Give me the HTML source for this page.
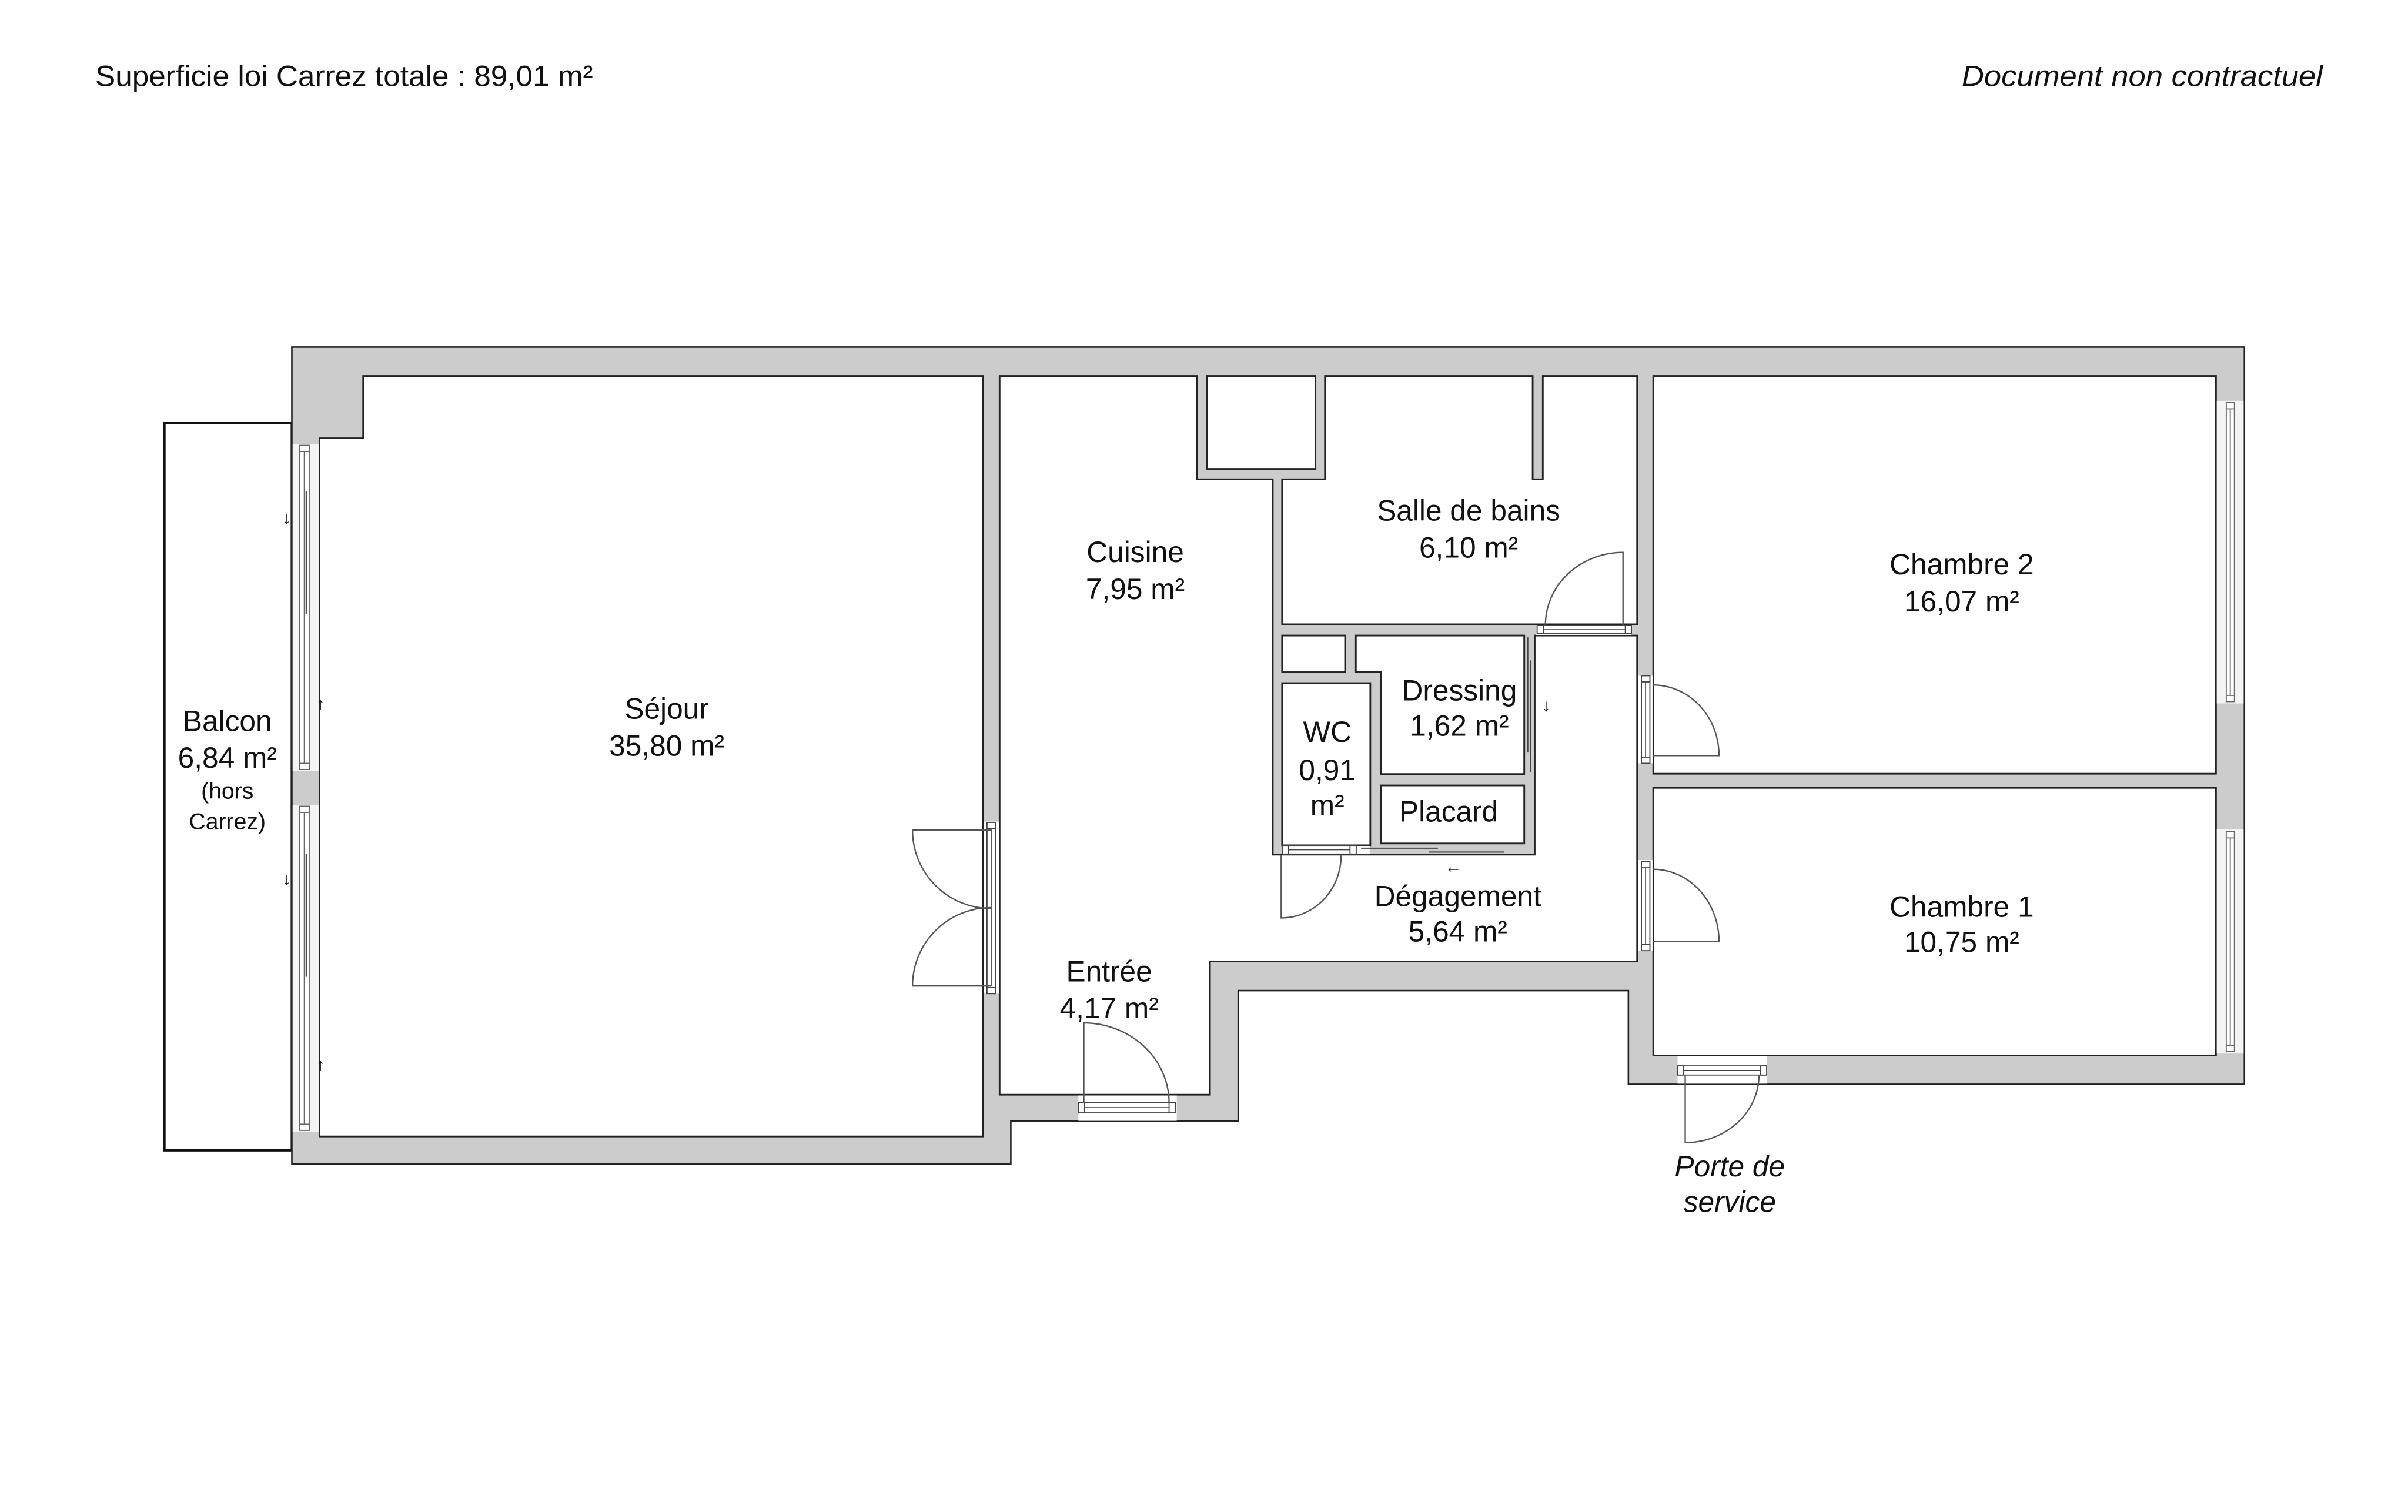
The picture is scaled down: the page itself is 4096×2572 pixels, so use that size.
<!DOCTYPE html>
<html><head><meta charset="utf-8"><style>
html,body{margin:0;padding:0;background:#fff;}
svg{display:block;}
text{font-family:"Liberation Sans",sans-serif;fill:#111;}
</style></head><body>
<svg width="4096" height="2572" viewBox="0 0 1567.5 984.5" preserveAspectRatio="none" xmlns="http://www.w3.org/2000/svg">
<rect x="0" y="0" width="1567.5" height="984.5" fill="#fff"/>
<text x="62" y="56" font-size="19" textLength="324" lengthAdjust="spacingAndGlyphs">Superficie loi Carrez totale :  89,01 m²</text>
<text x="1512" y="56" font-size="19" font-style="italic" text-anchor="end" textLength="235" lengthAdjust="spacingAndGlyphs">Document non contractuel</text>

<rect x="107" y="275.5" width="83" height="473.5" fill="#fff" stroke="#111" stroke-width="1.6"/>

<polygon points="190,226 1461,226 1461,706 1060,706 1060,645 806,645 806,730 658,730 658,758 190,758" fill="#cccccc" stroke="#222" stroke-width="1"/>

<g fill="#fff" stroke="#222" stroke-width="1.1">
<polygon points="236.4,244.8 640,244.8 640,740 208,740 208,285.4 236.4,285.4"/>
<polygon points="650.7,244.8 779.2,244.8 779.2,312.1 828.5,312.1 828.5,556.5 999,556.5 999,413.8 1065.7,413.8 1065.7,626 787.6,626 787.6,712.8 650.7,712.8"/>
<rect x="785.8" y="244.8" width="70.5" height="60.5"/>
<polygon points="862.5,244.8 997.7,244.8 997.7,312.1 1004.3,312.1 1004.3,244.8 1065.7,244.8 1065.7,406.5 834.6,406.5 834.6,312.1 862.5,312.1"/>
<rect x="834.6" y="413.8" width="41" height="23.9"/>
<polygon points="882.6,413.8 992.2,413.8 992.2,504 899.1,504 899.1,437.7 882.6,437.7"/>
<rect x="834.6" y="444.8" width="57.4" height="105.6"/>
<rect x="899.1" y="511.4" width="93.1" height="37.8"/>
<rect x="1076.2" y="244.8" width="366.3" height="259"/>
<rect x="1076.2" y="513" width="366.3" height="174.3"/>
</g>

<g fill="#f4f4f4" stroke="none">
<rect x="190.5" y="289" width="17" height="213"/>
<rect x="190.5" y="524" width="17" height="213"/>
<rect x="1443" y="261" width="17.5" height="197"/>
<rect x="1443" y="540" width="17.5" height="146"/>
<rect x="640.5" y="535" width="10" height="112" fill="#fff"/>
<rect x="702" y="713.3" width="64" height="16.5" fill="#fff"/>
<rect x="1092" y="687.8" width="58" height="17.8" fill="#fff"/>
<rect x="1066.2" y="440" width="9.5" height="57" fill="#fff"/>
<rect x="1066.2" y="560" width="9.5" height="59" fill="#fff"/>
<rect x="1000" y="406.9" width="62" height="6.5" fill="#fff"/>
<rect x="834.8" y="550.8" width="56.8" height="5.4" fill="#fff"/>
</g>

<g fill="#fff" stroke="#666" stroke-width="0.7">
<rect x="195" y="290" width="6.3" height="211"/><line x1="198.1" y1="292" x2="198.1" y2="499"/>
<rect x="195" y="525" width="6.3" height="211"/><line x1="198.1" y1="527" x2="198.1" y2="734"/>
<rect x="1449.2" y="262.2" width="5.3" height="194.6"/><line x1="1451.8" y1="266" x2="1451.8" y2="453"/>
<rect x="1449.2" y="541.6" width="5.3" height="143.1"/><line x1="1451.8" y1="545" x2="1451.8" y2="681"/>
<rect x="195" y="290" width="6.3" height="4"/><rect x="195" y="497" width="6.3" height="4"/>
<rect x="195" y="525" width="6.3" height="4"/><rect x="195" y="732" width="6.3" height="4"/>
<rect x="1449.2" y="262.2" width="5.3" height="4"/><rect x="1449.2" y="452.8" width="5.3" height="4"/>
<rect x="1449.2" y="541.6" width="5.3" height="4"/><rect x="1449.2" y="680.7" width="5.3" height="4"/>
</g>
<g stroke="#555" stroke-width="1.2"><line x1="199.5" y1="320" x2="199.5" y2="400"/><line x1="199.5" y1="556" x2="199.5" y2="636"/></g>

<g fill="#fff" stroke="#444" stroke-width="0.7">
<rect x="642.5" y="535.5" width="5.5" height="111"/><line x1="645.2" y1="540" x2="645.2" y2="642"/>
<rect x="642.5" y="535.5" width="5.5" height="4"/><rect x="642.5" y="643" width="5.5" height="4"/>
<rect x="702" y="717.8" width="63" height="6.8"/><line x1="706" y1="721.2" x2="761" y2="721.2"/>
<rect x="702" y="717.8" width="4" height="6.8"/><rect x="761" y="717.8" width="4" height="6.8"/>
<rect x="1092" y="694" width="58" height="6"/><line x1="1096" y1="697" x2="1146" y2="697"/>
<rect x="1092" y="694" width="4" height="6"/><rect x="1146" y="694" width="4" height="6"/>
<rect x="1068.5" y="440" width="5.5" height="57"/><line x1="1071.2" y1="444" x2="1071.2" y2="493"/>
<rect x="1068.5" y="440" width="5.5" height="4"/><rect x="1068.5" y="493" width="5.5" height="4"/>
<rect x="1068.5" y="561" width="5.5" height="58"/><line x1="1071.2" y1="565" x2="1071.2" y2="615"/>
<rect x="1068.5" y="561" width="5.5" height="4"/><rect x="1068.5" y="615" width="5.5" height="4"/>
<rect x="1000.6" y="407.3" width="61.4" height="5.2"/><line x1="1004" y1="410" x2="1058" y2="410"/>
<rect x="1000.6" y="407.3" width="4" height="5.2"/><rect x="1058" y="407.3" width="4" height="5.2"/>
<rect x="834.8" y="550.5" width="48" height="5.6"/><line x1="838" y1="553.3" x2="880" y2="553.3"/>
<rect x="834.8" y="550.5" width="4" height="5.6"/><rect x="878.8" y="550.5" width="4" height="5.6"/>
</g>
<g stroke="#444" stroke-width="0.8" fill="none">
<line x1="886" y1="552.3" x2="936" y2="552.3"/><line x1="930" y1="554.8" x2="979" y2="554.8"/>
<line x1="994.5" y1="415" x2="994.5" y2="490"/><line x1="996.3" y1="430" x2="996.3" y2="503"/>
</g>

<g stroke="#555" stroke-width="0.9" fill="none">
<path d="M645,540.5 L594,540.5 A51,51 0 0 0 645,591.5"/>
<path d="M645,642 L594,642 A51,51 0 0 1 645,591"/>
<path d="M705.5,718 L705.5,666 A56,52 0 0 1 761,718"/>
<path d="M1097,700 L1097,744 A48,44 0 0 0 1145,700"/>
<path d="M1076,492 L1119,492 A43,46 0 0 0 1076,446"/>
<path d="M1076,613 L1119,613 A43,47 0 0 0 1076,566"/>
<path d="M1056.5,407 L1056.5,359.7 A50.5,47.3 0 0 0 1006,407"/>
<path d="M834,557 L834,597.7 A39,40.7 0 0 0 873,557"/>
</g>

<g font-size="11" fill="#333">
<text x="186.7" y="341" text-anchor="middle">↓</text>
<text x="208.7" y="462" text-anchor="middle">↑</text>
<text x="186.7" y="576" text-anchor="middle">↓</text>
<text x="208.7" y="697" text-anchor="middle">↑</text>
<text x="1006.5" y="463" text-anchor="middle">↓</text>
<text x="946" y="568" text-anchor="middle">←</text>
</g>

<g font-size="19" text-anchor="middle">
<text x="148" y="476">Balcon</text>
<text x="148" y="500">6,84 m²</text>
<text x="148" y="520" font-size="15">(hors</text>
<text x="148" y="540" font-size="15">Carrez)</text>
<text x="434" y="468">Séjour</text>
<text x="434" y="492">35,80 m²</text>
<text x="739" y="366">Cuisine</text>
<text x="739" y="390">7,95 m²</text>
<text x="956" y="339">Salle de bains</text>
<text x="956" y="363">6,10 m²</text>
<text x="950" y="456">Dressing</text>
<text x="950" y="479">1,62 m²</text>
<text x="864" y="483">WC</text>
<text x="864" y="508">0,91</text>
<text x="864" y="531">m²</text>
<text x="943" y="535">Placard</text>
<text x="949" y="590">Dégagement</text>
<text x="949" y="613">5,64 m²</text>
<text x="722" y="639">Entrée</text>
<text x="722" y="663">4,17 m²</text>
<text x="1277" y="374">Chambre 2</text>
<text x="1277" y="398">16,07 m²</text>
<text x="1277" y="597">Chambre 1</text>
<text x="1277" y="620">10,75 m²</text>
<text x="1126" y="766" font-style="italic">Porte de</text>
<text x="1126" y="789" font-style="italic">service</text>
</g>
</svg>
</body></html>
